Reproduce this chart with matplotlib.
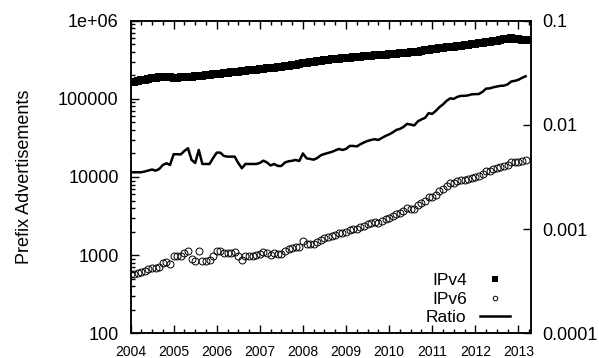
import numpy as np
import matplotlib
matplotlib.use("Agg")
import matplotlib.pyplot as plt
from matplotlib.ticker import FixedLocator, FuncFormatter, LogLocator, NullLocator, NullFormatter

plt.rcParams['font.family'] = ['Liberation Sans', 'DejaVu Sans']

# Monthly samples, Jan 2004 .. Mar 2013
start_year = 2004
n_months = 111

# IPv4 prefix advertisements (thousands)
ipv4_k = [162, 165, 168, 172, 176, 180, 184, 186, 189, 191, 190, 188,
          186, 187, 189, 190, 191, 193, 194, 196, 198, 200, 203, 205,
          207, 209, 212, 215, 218, 221, 223, 226, 229, 231, 234, 237,
          240, 243, 246, 249, 251, 254, 258, 262, 267, 271, 275, 280,
          284, 289, 293, 297, 302, 307, 311, 315, 319, 322, 326, 330,
          334, 337, 341, 344, 347, 351, 354, 357, 360, 363, 366, 369,
          372, 375, 378, 381, 384, 389, 392, 396, 402, 410, 418, 426,
          431, 437, 443, 449, 455, 461, 467, 473, 480, 486, 493, 500,
          507, 514, 521, 529, 538, 547, 556, 565, 575, 586, 597, 584,
          575, 572, 571]

# IPv6 prefix advertisements
ipv6 = [568, 579, 590, 604, 629, 657, 687, 676, 714, 788, 814, 776,
        972, 978, 984, 1069, 1140, 890, 836, 1127, 835, 843, 856, 987,
        1121, 1132, 1067, 1066, 1081, 1095, 961, 867, 966, 974, 987, 999,
        1035, 1102, 1072, 1016, 1058, 1025, 1041, 1142, 1195, 1227, 1267, 1262,
        1511, 1383, 1380, 1377, 1454, 1570, 1637, 1695, 1755, 1831, 1916, 1897,
        1963, 2117, 2142, 2138, 2262, 2382, 2484, 2562, 2623, 2604, 2745, 2892,
        3015, 3176, 3383, 3486, 3673, 3977, 3947, 3917, 4344, 4631, 4881, 5521,
        5500, 5959, 6554, 7068, 7743, 8288, 8303, 8794, 9120, 9235, 9474, 9824,
        10005, 10170, 10820, 11790, 12070, 12550, 12980, 13400, 13690, 14360, 15570, 15470,
        15570, 16190, 16710]

year_ticks = [2004, 2005, 2006, 2007, 2008, 2009, 2010, 2011, 2012, 2013]
left_ticks = [100, 1000, 10000, 100000, 1000000]
left_labels = ['100', '1000', '10000', '100000', '1e+06']
right_ticks = [0.0001, 0.001, 0.01, 0.1]
right_labels = ['0.0001', '0.001', '0.01', '0.1']

x = start_year + np.arange(n_months) / 12.0
v4 = np.array(ipv4_k, dtype=float) * 1000.0
v6 = np.array(ipv6, dtype=float)
ratio = v6 / v4


def nearest_label(ticks, labels):
    def f(v, p):
        i = int(np.argmin([abs(np.log10(t) - np.log10(v)) for t in ticks]))
        return labels[i]
    return FuncFormatter(f)


fig = plt.figure(figsize=(5.99, 3.58), dpi=100)
ax = fig.add_axes([0.2179, 0.069, 0.6678, 0.8732])
ax2 = ax.twinx()

h4, = ax.plot(x, v4, linestyle='none', marker='s', markersize=5.8,
              color='black', markeredgewidth=0, label='IPv4')
h6, = ax.plot(x, v6, linestyle='none', marker='o', markersize=5.0,
              markerfacecolor='none', markeredgecolor='black',
              markeredgewidth=0.7, label='IPv6')
hr, = ax2.plot(x, ratio, color='black', linewidth=1.8, label='Ratio')

ax.set_yscale('log')
ax2.set_yscale('log')
ax.set_ylim(100, 1e6)
ax2.set_ylim(1e-4, 0.1)
ax.set_xlim(2004, 2004 + 400 / 43.1)

ax.yaxis.set_major_locator(FixedLocator(left_ticks))
ax.yaxis.set_major_formatter(nearest_label(left_ticks, left_labels))
ax.yaxis.set_minor_locator(LogLocator(base=10, subs=np.arange(2, 10)))
ax.yaxis.set_minor_formatter(NullFormatter())

ax2.yaxis.set_major_locator(FixedLocator(right_ticks))
ax2.yaxis.set_major_formatter(nearest_label(right_ticks, right_labels))
ax2.yaxis.set_minor_locator(NullLocator())

ax.xaxis.set_major_locator(FixedLocator(year_ticks))
ax.xaxis.set_major_formatter(FuncFormatter(lambda v, p: '%d' % round(v)))
ax.xaxis.set_minor_locator(FixedLocator([y + q / 4 for y in range(2004, 2014) for q in (1, 2, 3)]))

ax.tick_params(axis='both', which='major', direction='in', length=6, width=1.0,
               top=True, right=False)
ax.tick_params(axis='both', which='minor', direction='in', length=3, width=1.0,
               top=True, right=False)
ax.tick_params(axis='y', labelsize=13, pad=8.5)
ax.tick_params(axis='x', labelsize=10, pad=8.5)
ax2.tick_params(axis='y', which='major', direction='in', length=6, width=1.0,
                labelsize=13, pad=8.5)

for a in (ax, ax2):
    for s in a.spines.values():
        s.set_linewidth(1.1)

ax.set_ylabel('Prefix Advertisements', fontsize=13)
ax.yaxis.set_label_coords(-0.245, 0.5)

leg = ax2.legend(handles=[h4, h6, hr], loc='lower right',
                 bbox_to_anchor=(0.949, 0.025), frameon=False, markerfirst=False,
                 fontsize=12.5, handlelength=1.75, handletextpad=0.75,
                 labelspacing=0.2, borderpad=0, borderaxespad=0, markerscale=0.65)

fig.savefig('out.png', dpi=100)
